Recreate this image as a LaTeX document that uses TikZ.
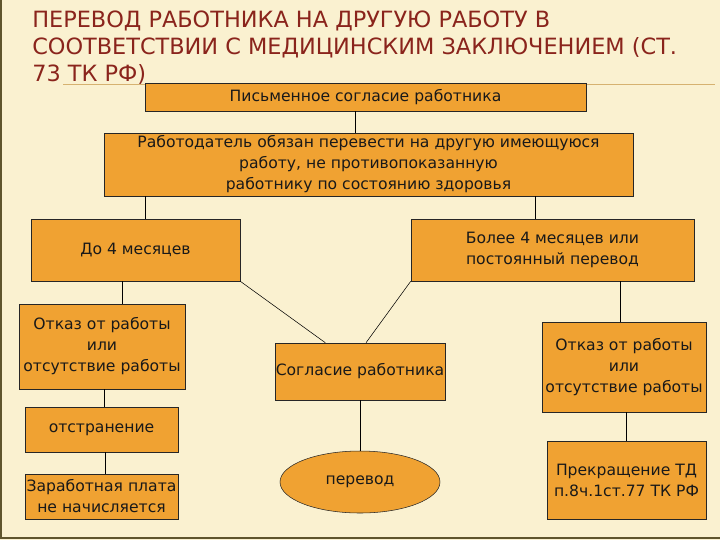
\documentclass[tikz,border=0pt]{standalone}
\usepackage{fontspec}
\setmainfont{DejaVu Sans}
\usetikzlibrary{shapes.geometric}
\definecolor{fon}{RGB}{250,241,208}
\definecolor{kor}{RGB}{240,162,50}
\definecolor{zag}{RGB}{138,36,28}
\definecolor{ramka}{RGB}{95,85,45}
\definecolor{liniya}{RGB}{214,178,112}
\begin{document}
\begin{tikzpicture}[x=0.75pt,y=-0.75pt,
  box/.style={draw=black!85, fill=kor, inner sep=0pt, align=center, text=black!90,
    font=\fontsize{11.7pt}{15.75pt}\selectfont}]
\useasboundingbox (0,0) rectangle (720,540);
\fill[fon] (0,0) rectangle (720,540);
\draw[ramka, line width=1.5pt] (1,0) -- (1,538) -- (720,538);
\draw[liniya] (63,84) -- (715,84);

\node[text=zag, anchor=north west, inner sep=0pt, align=left,
  font=\fontsize{16.8pt}{20pt}\selectfont](T) at (32,11){ПЕРЕВОД РАБОТНИКА НА ДРУГУЮ РАБОТУ В\\СООТВЕТСТВИИ С МЕДИЦИНСКИМ ЗАКЛЮЧЕНИЕМ (СТ.\\73 ТК РФ)};

\node[box, minimum width=330.75pt, minimum height=21pt](A) at (365.5,97){Письменное согласие работника};
\node[box, minimum width=396.75pt, minimum height=47.25pt](B) at (368.5,164.5){Работодатель обязан перевести на другую имеющуюся\\работу, не противопоказанную\\работнику по состоянию здоровья};

\node[box, minimum width=156.75pt, minimum height=46.5pt](C1) at (135.5,250){До 4 месяцев};
\node[box, minimum width=212.25pt, minimum height=46.5pt](C2) at (552.5,250){Более 4 месяцев или\\постоянный перевод};

\node[box, minimum width=124.5pt, minimum height=63.75pt](D1) at (102,346.5){Отказ от работы\\или\\отсутствие работы};
\node[box, minimum width=127.5pt, minimum height=42.75pt](D2) at (360,371.5){Согласие работника};
\node[box, minimum width=123pt, minimum height=67.5pt](D3) at (624,367){Отказ от работы\\или\\отсутствие работы};

\node[box, minimum width=114.75pt, minimum height=33.75pt](E1) at (101.5,429.5){отстранение};
\node[box, ellipse, minimum width=120pt, minimum height=46.5pt](E2) at (360,482){перевод};
\node[box, minimum width=119.25pt, minimum height=58.5pt](E3) at (626.5,480){Прекращение ТД\\п.8ч.1ст.77 ТК РФ};

\node[box, minimum width=114.75pt, minimum height=33.75pt](F1) at (101.5,496.5){Заработная плата\\не начисляется};

\draw ([xshift=-7.5pt]A.south) -- ([xshift=-7.5pt]A.south |- B.north);
\draw ([xshift=7pt]C1.north) -- ([xshift=7pt]C1.north |- B.south);
\draw ([xshift=-13pt]C2.north) -- ([xshift=-13pt]C2.north |- B.south);
\draw ([xshift=15pt]D1.north) -- ([xshift=15pt]D1.north |- C1.south);
\draw (C1.south east) -- ([xshift=-26pt]D2.north);
\draw (C2.south west) -- ([xshift=4.5pt]D2.north);
\draw ([xshift=-3pt]D3.north) -- ([xshift=-3pt]D3.north |- C2.south);
\draw ([xshift=2pt]D1.south) -- ([xshift=2pt]D1.south |- E1.north);
\draw ([xshift=2.5pt]E1.south) -- ([xshift=2.5pt]F1.north);
\draw (D2.south) -- (E2.north);
\draw (E3.north) -- (E3.north |- D3.south);
\end{tikzpicture}
\end{document}
